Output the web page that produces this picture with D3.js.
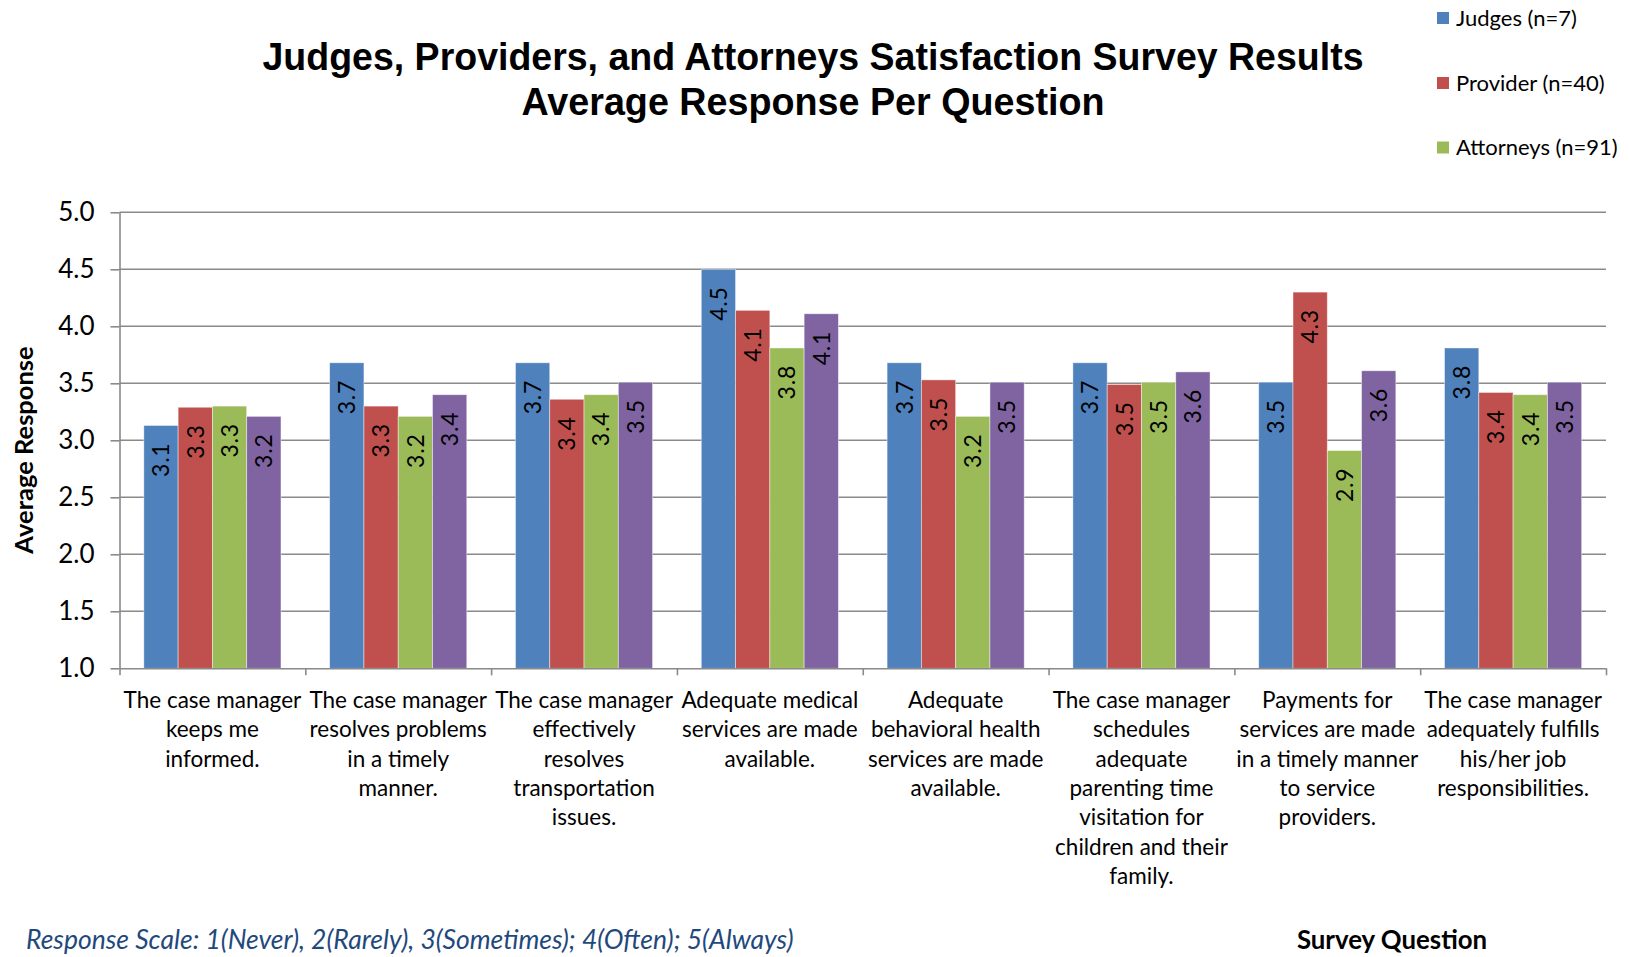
<!DOCTYPE html>
<html>
<head>
<meta charset="utf-8">
<script src="https://cdn.jsdelivr.net/npm/d3@7"></script>
<style>
  html, body { margin: 0; padding: 0; background: #fff; }
  svg { display: block; }
  text { font-family: Lato, "Open Sans", sans-serif; fill: #000; }
</style>
</head>
<body>
<svg id="chart" width="1629" height="957"></svg>
<script>
// ---- data ----
const categories = [
  ["The case manager", "keeps me", "informed."],
  ["The case manager", "resolves problems", "in a timely", "manner."],
  ["The case manager", "effectively", "resolves", "transportation", "issues."],
  ["Adequate medical", "services are made", "available."],
  ["Adequate", "behavioral health", "services are made", "available."],
  ["The case manager", "schedules", "adequate", "parenting time", "visitation for", "children and their", "family."],
  ["Payments for", "services are made", "in a timely manner", "to service", "providers."],
  ["The case manager", "adequately fulfills", "his/her job", "responsibilities."]
];
const seriesNames = ["Judges (n=7)", "Provider (n=40)", "Attorneys (n=91)", "Combined"];
const judges    = [3.13, 3.68, 3.68, 4.50, 3.68, 3.68, 3.51, 3.81];
const providers = [3.29, 3.30, 3.36, 4.14, 3.53, 3.49, 4.30, 3.42];
const attorneys = [3.30, 3.21, 3.40, 3.81, 3.21, 3.51, 2.91, 3.40];
const combined  = [3.21, 3.40, 3.51, 4.11, 3.51, 3.60, 3.61, 3.51];
const yTicks = [1.0, 1.5, 2.0, 2.5, 3.0, 3.5, 4.0, 4.5, 5.0];
const legendNames = seriesNames.slice(0, 3);

const seriesValues = [judges, providers, attorneys, combined];
const colors = ["#4F81BD", "#C0504D", "#9BBB59", "#8064A2"];

// ---- layout ----
const svg = d3.select("#chart");
const plot = { left: 119.5, right: 1606, top: 212.3, bottom: 668.3 };
const gridColor = "#8a8a8a";

const catIdx = categories.map((d, i) => i);
const x0 = d3.scaleBand().domain(catIdx).range([plot.left, plot.right]).padding(0);
const x1 = d3.scaleBand().domain(d3.range(seriesNames.length))
  .range([0, x0.bandwidth()]).paddingInner(0).paddingOuter(0.71);
const y = d3.scaleLinear().domain([1, 5]).range([plot.bottom, plot.top]);
const boundary = d3.scaleLinear().domain([0, categories.length]).range([plot.left, plot.right]);

// horizontal gridlines
svg.append("g")
  .selectAll("line")
  .data(yTicks.filter(t => t > 1))
  .join("line")
  .attr("x1", plot.left).attr("x2", plot.right)
  .attr("y1", d => y(d)).attr("y2", d => y(d))
  .attr("stroke", gridColor).attr("stroke-width", 1.6);

// bars
const groups = svg.append("g")
  .selectAll("g")
  .data(catIdx)
  .join("g")
  .attr("transform", i => `translate(${x0(i)},0)`);

const barData = i => seriesValues.map((vals, s) => ({ s, v: vals[i] }));

groups.selectAll("rect")
  .data(barData)
  .join("rect")
  .attr("x", d => x1(d.s))
  .attr("width", x1.bandwidth())
  .attr("y", d => y(d.v))
  .attr("height", d => y(1) - y(d.v))
  .attr("fill", d => colors[d.s])
  .attr("stroke", "rgba(255,255,255,0.55)")
  .attr("stroke-width", 0.8);

// value labels, rotated inside the bar top
const fmt = d3.format(".1f");
groups.selectAll("text.val")
  .data(barData)
  .join("text")
  .attr("class", "val")
  .attr("transform", d => `translate(${x1(d.s) + x1.bandwidth() / 2},${y(d.v) + 17}) rotate(-90)`)
  .attr("text-anchor", "end")
  .attr("dy", "0.36em")
  .style("font-size", "23px")
  .style("letter-spacing", "0.8px")
  .text(d => fmt(d.v));

// y axis
const yAxis = d3.axisLeft(y).tickValues(yTicks).tickFormat(d3.format(".1f"))
  .tickSize(9).tickPadding(16).tickSizeOuter(0);
const gy = svg.append("g").attr("transform", `translate(${plot.left},0)`).call(yAxis);
gy.select(".domain").attr("stroke", gridColor).attr("stroke-width", 1.6);
gy.selectAll(".tick line").attr("stroke", gridColor).attr("stroke-width", 1.6);
gy.selectAll(".tick text").style("font-size", "26px").style("font-family", "Lato, sans-serif").attr("fill", "#000");

// x axis with boundary ticks between question groups
const xAxis = d3.axisBottom(boundary).tickValues(d3.range(categories.length + 1))
  .tickFormat("").tickSize(7).tickSizeOuter(0);
const gx = svg.append("g").attr("transform", `translate(0,${plot.bottom})`).call(xAxis);
gx.select(".domain").attr("stroke", gridColor).attr("stroke-width", 1.6);
gx.selectAll(".tick line").attr("stroke", gridColor).attr("stroke-width", 1.6);

// category labels
const lineH = 29.3;
svg.append("g")
  .selectAll("text")
  .data(catIdx)
  .join("text")
  .attr("text-anchor", "middle")
  .style("font-size", "22.5px")
  .each(function (i) {
    const t = d3.select(this);
    const cx = x0(i) + x0.bandwidth() / 2;
    categories[i].forEach((line, k) => {
      t.append("tspan").attr("x", cx).attr("y", 708 + k * lineH).text(line);
    });
  });

// axis titles
svg.append("text")
  .attr("transform", "translate(33,450) rotate(-90)")
  .attr("text-anchor", "middle")
  .style("font-size", "25.5px").style("font-weight", "bold")
  .text("Average Response");

svg.append("text")
  .attr("x", 1392).attr("y", 949)
  .attr("text-anchor", "middle")
  .style("font-size", "25.8px").style("font-weight", "bold")
  .text("Survey Question");

// response scale note
svg.append("text")
  .attr("x", 26).attr("y", 949)
  .style("font-size", "26.5px").style("font-style", "italic")
  .style("fill", "#1F497D")
  .text("Response Scale:  1(Never), 2(Rarely), 3(Sometimes); 4(Often); 5(Always)");

// title
const titleLines = ["Judges, Providers, and Attorneys Satisfaction Survey Results", "Average Response Per Question"];
const titleWidths = [1101, 583];
svg.append("g")
  .selectAll("text")
  .data(titleLines)
  .join("text")
  .attr("x", 813)
  .attr("y", (d, i) => 70 + i * 45)
  .attr("text-anchor", "middle")
  .attr("textLength", (d, i) => titleWidths[i])
  .attr("lengthAdjust", "spacingAndGlyphs")
  .style("font-family", "\"Liberation Sans Narrow\", \"Liberation Sans\", Arial, sans-serif")
  .style("font-size", "38px").style("font-weight", "bold")
  .text(d => d);

// legend
const legend = svg.append("g")
  .selectAll("g")
  .data(legendNames)
  .join("g")
  .attr("transform", (d, i) => `translate(1437,${[18, 83, 147.5][i]})`);
legend.append("rect")
  .attr("x", 0).attr("y", -6).attr("width", 12).attr("height", 12)
  .attr("fill", (d, i) => colors[i]);
legend.append("text")
  .attr("x", 19).attr("dy", "0.36em")
  .style("font-size", "22px")
  .text(d => d);
</script>
</body>
</html>
